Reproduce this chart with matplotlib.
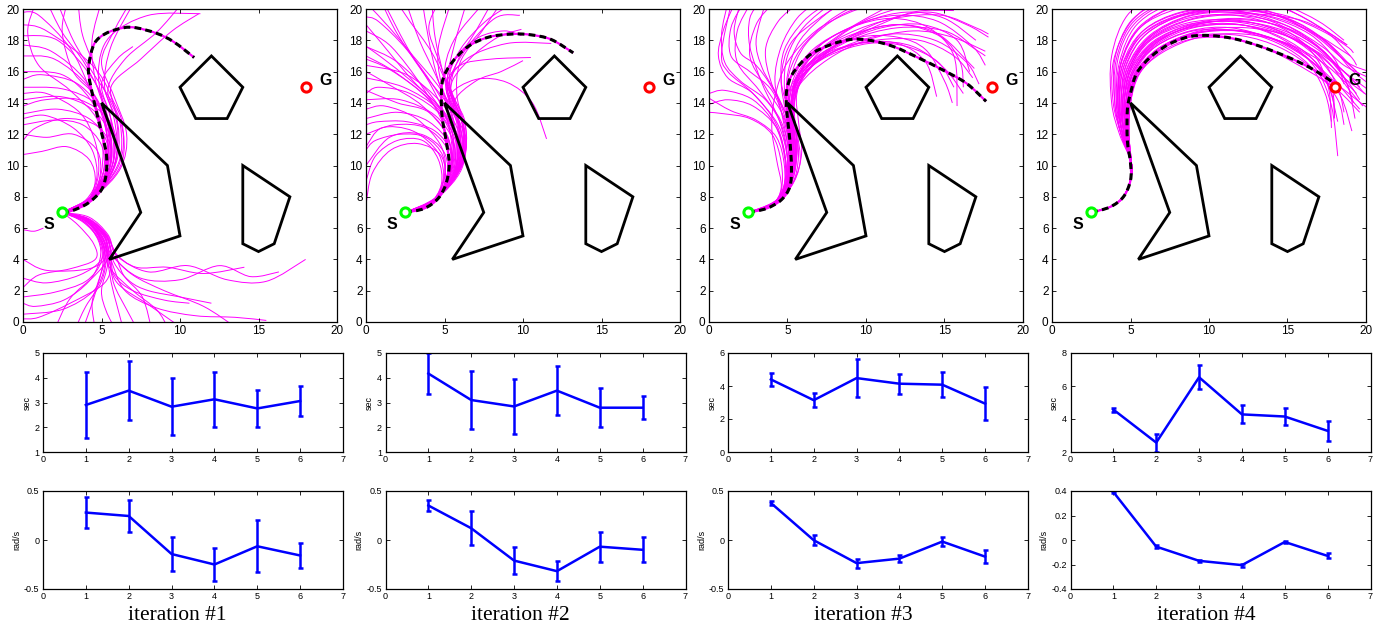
import numpy as np
import matplotlib
matplotlib.use("Agg")
import matplotlib.pyplot as plt
from matplotlib.path import Path
from matplotlib.patches import PathPatch, Polygon

# ---- scene ----
START = (2.5, 7.0)
GOAL = (18.0, 15.0)
OBSTACLES = [
    [(12, 17), (14, 15), (13, 13), (11, 13), (10, 15)],
    [(5, 14), (9.2, 10), (10, 5.5), (5.5, 4), (7.5, 7)],
    [(14, 10), (17, 8), (16, 5), (15, 4.5), (14, 5)],
]

# ---- best paths (dashed) ----
PATH1 = [(2.5, 7), (3.1, 7.1), (4.15, 7.6), (5.0, 8.45), (5.3, 9.5), (5.3, 10.8), (4.9, 12.5),
         (4.5, 14.2), (4.2, 15.7), (4.2, 16.5), (4.55, 17.8), (5.3, 18.45), (6.4, 18.8),
         (7.2, 18.8), (8.5, 18.45), (9.6, 17.9), (10.9, 16.9)]
PATH2 = [(2.5, 7), (3.7, 7.25), (4.6, 7.9), (5.1, 8.85), (5.3, 10.1), (5.1, 11.6), (4.85, 13.1),
         (4.8, 14.4), (4.9, 15.5), (5.45, 16.55), (6.5, 17.6), (7.8, 18.2), (9.3, 18.4),
         (10.5, 18.35), (11.8, 18.05), (13.2, 17.2)]
PATH3 = [(2.5, 7), (3.65, 7.25), (4.6, 7.8), (5.15, 8.65), (5.25, 9.9), (5.15, 11.6), (4.95, 13.55),
         (4.95, 14.8), (5.35, 15.9), (6.4, 17.05), (7.7, 17.7), (9.0, 18.05), (10.25, 18.0),
         (11.75, 17.6), (13.4, 16.85), (14.9, 16.1), (16.4, 15.25), (17.65, 14.1)]
PATH4 = [(2.5, 7), (3.7, 7.35), (4.55, 8.0), (5.0, 9.05), (5.0, 10.15), (4.8, 11.6), (4.8, 13.55),
         (5.0, 14.6), (5.4, 15.9), (6.3, 16.95), (7.55, 17.8), (8.85, 18.25), (10.1, 18.3),
         (11.6, 18.1), (13.3, 17.6), (15.2, 16.85), (16.7, 16.1), (18.0, 15.25)]

# ---- sampled trajectories (magenta) ----
FAN1 = [
    [(2.5, 7), (4.0, 7.6), (4.6, 9.0), (4.2, 10.4), (2.8, 11.2), (1.2, 10.9), (0, 10.7)],
    [(2.5, 7), (4.1, 7.7), (4.9, 9.3), (4.7, 11.0), (3.2, 12.0), (1.5, 11.8), (0, 12.0)],
    [(2.5, 7), (4.2, 7.8), (5.1, 9.5), (5.0, 11.3), (3.8, 12.6), (2.0, 12.9), (0, 12.6)],
    [(2.5, 7), (4.3, 7.8), (5.3, 9.6), (5.3, 11.6), (4.2, 13.0), (2.2, 13.6), (0, 13.3)],
    [(2.5, 7), (4.4, 7.9), (5.5, 9.8), (5.5, 12.0), (4.4, 13.6), (2.4, 14.4), (0, 14.2)],
    [(2.5, 7), (4.5, 8.0), (5.7, 10.0), (5.7, 12.3), (4.6, 14.0), (2.5, 14.9), (0, 15.0)],
    [(2.5, 7), (4.2, 7.9), (5.2, 9.8), (5.1, 12.0), (4.3, 14.2), (2.5, 15.8), (0, 16.0)],
    [(2.5, 7), (4.4, 8.0), (5.6, 10.2), (5.4, 12.6), (4.2, 15.0), (2.0, 16.8), (0, 17.0)],
    [(2.5, 7), (4.3, 7.9), (5.4, 10.0), (5.2, 12.6), (4.0, 15.4), (1.8, 17.3), (0, 17.7)],
    [(2.5, 7), (4.5, 8.1), (5.8, 10.4), (5.6, 13.0), (4.4, 15.6), (2.2, 18.0), (0, 18.3)],
    [(2.5, 7), (4.2, 7.8), (5.0, 9.6), (5.0, 12.4), (4.2, 15.0), (3.0, 17.5), (1.0, 19.6), (0, 19.8)],
    [(2.5, 7), (4.6, 8.1), (5.9, 10.3), (5.8, 13.0), (4.8, 15.8), (3.8, 18.3), (3.5, 20.5)],
    [(2.5, 7), (4.4, 7.9), (5.5, 9.9), (5.4, 12.8), (4.6, 15.5), (4.4, 18.0), (5.0, 20.5)],
    [(2.5, 7), (4.5, 8.0), (5.8, 10.0), (6.0, 12.6), (5.2, 15.0), (5.6, 17.6), (7.0, 20.3)],
    [(2.5, 7), (4.6, 8.1), (6.1, 10.2), (6.2, 12.6), (5.4, 14.8), (6.5, 16.8), (8.5, 18.5), (10.0, 20.2)],
    [(2.5, 7), (4.7, 8.2), (6.3, 10.2), (6.3, 12.8), (5.6, 15.0), (7.5, 16.8), (9.5, 18.6), (11.2, 19.7)],
    [(2.5, 7), (4.3, 7.9), (5.4, 10.2), (5.2, 13.2), (4.8, 16.0), (5.5, 18.2), (8.0, 19.6), (11.3, 19.7)],
    [(2.5, 7), (4.4, 8.0), (5.6, 10.3), (5.3, 13.5), (4.0, 16.4), (2.5, 18.5), (1.5, 20.5)],
    [(2.5, 7), (4.5, 8.0), (5.7, 10.1), (5.6, 12.9), (5.0, 15.2), (6.0, 16.8), (7.0, 17.6)],
    [(2.5, 7), (4.3, 7.8), (5.3, 9.7), (5.3, 12.2), (4.6, 14.4), (3.2, 16.0), (2.5, 18.5), (2.8, 20.4)],
    [(2.5, 7), (4.1, 7.7), (4.8, 9.4), (4.6, 11.5), (3.6, 13.4), (1.5, 14.6), (0, 14.6)],
    [(2.5, 7), (4.6, 8.1), (6.0, 10.4), (5.9, 13.4), (4.6, 16.2), (1.5, 18.6), (0, 19.0)],
    [(2.5, 7), (4.2, 7.9), (5.2, 10.0), (4.8, 12.8), (3.0, 14.8), (1.0, 16.4), (0.3, 18.5), (0.8, 20.4)],
    [(2.5, 7), (4.4, 8.1), (5.5, 10.4), (5.1, 13.2), (3.5, 15.2), (1.2, 15.8), (0, 15.5)],
    [(2.5, 7), (4.3, 7.8), (5.6, 9.4), (6.0, 11.2), (5.4, 13.0), (3.6, 14.2), (1.4, 14.2), (0, 13.8)],
    [(2.5, 7), (4.2, 7.8), (5.4, 9.4), (5.6, 11.2), (4.6, 12.6), (2.6, 13.0), (0.8, 12.4), (0, 11.6)],
    [(2.5, 7), (4.4, 8.0), (6.0, 9.8), (6.4, 11.8), (5.8, 13.8), (4.4, 16.0), (3.2, 18.0), (2.2, 20.4)],
    [(2.5, 7), (4.5, 8.0), (6.2, 9.8), (6.6, 12.0), (5.8, 14.4), (5.0, 16.6), (5.8, 18.6), (6.8, 20.4)],
    [(2.5, 7), (4.0, 7.8), (4.7, 9.2), (4.4, 11.0), (3.2, 12.4), (1.4, 13.2), (0, 13.0)],
    [(2.5, 7), (3.9, 6.5), (4.9, 5.4), (5.3, 4.2), (5.0, 2.6), (4.0, 1.0), (3.3, -0.5)],
    [(2.5, 7), (4.0, 6.6), (5.1, 5.4), (5.5, 4.0), (5.8, 2.4), (6.6, 0.8), (7.3, -0.5)],
    [(2.5, 7), (3.8, 6.4), (4.8, 5.3), (5.0, 3.9), (4.0, 2.6), (2.0, 1.9), (0, 1.6)],
    [(2.5, 7), (4.1, 6.6), (5.3, 5.5), (5.8, 4.2), (7.0, 3.0), (9.0, 2.0), (11.5, 1.0), (13.5, -0.3)],
    [(2.5, 7), (4.0, 6.5), (5.0, 5.2), (5.2, 3.6), (4.5, 2.0), (2.5, 0.8), (0, 0.5)],
    [(2.5, 7), (3.9, 6.5), (5.0, 5.5), (5.4, 4.2), (6.0, 2.5), (8.0, 1.1), (10.0, -0.3)],
    [(2.5, 7), (4.2, 6.7), (5.4, 5.6), (5.9, 4.4), (7.2, 3.5), (9.2, 3.5), (11.5, 3.1), (14.1, 3.5)],
    [(2.5, 7), (4.1, 6.5), (5.2, 5.4), (5.7, 4.2), (7.5, 2.8), (10.0, 2.7), (12.5, 3.6), (14.5, 2.9), (16.3, 3.2)],
    [(2.5, 7), (4.2, 6.6), (5.4, 5.5), (6.0, 4.2), (8.0, 3.2), (10.5, 3.6), (13.0, 2.7), (15.5, 2.6), (18.0, 4.0)],
    [(2.5, 7), (4.0, 6.5), (5.1, 5.3), (5.4, 3.8), (5.0, 2.0), (5.3, 0.7), (5.9, -0.5)],
    [(2.5, 7), (3.9, 6.4), (4.9, 5.2), (5.0, 4.0), (3.6, 3.0), (1.5, 2.5), (0, 2.8)],
    [(2.5, 7), (4.0, 6.6), (5.2, 5.5), (5.6, 4.0), (6.5, 2.0), (8.5, 0.9), (11.0, 0.4), (13.5, 0.3), (15.5, 0.1)],
    [(2.5, 7), (4.1, 6.5), (5.2, 5.4), (5.4, 4.1), (4.6, 3.0), (3.0, 1.5), (2.0, -0.5)],
    [(2.5, 7), (4.0, 6.5), (5.0, 5.2), (5.5, 3.5), (7.0, 2.0), (8.5, 0.8), (9.2, -0.3)],
    [(2.5, 7), (4.1, 6.5), (5.3, 5.4), (5.6, 4.0), (5.2, 2.5), (3.0, 1.2), (1.0, 0.3), (0, 0.2)],
    [(2.5, 7), (4.0, 6.5), (5.0, 5.4), (5.3, 4.2), (4.2, 3.4), (1.5, 3.3), (0, 4.0)],
    [(2.5, 7), (4.1, 6.6), (5.3, 5.5), (5.8, 3.8), (6.8, 2.6), (8.0, 2.0), (10.0, 1.6), (12.0, 1.2)],
    [(2.5, 7), (3.9, 6.5), (4.9, 5.3), (5.1, 3.8), (4.5, 1.5), (3.8, -0.5)],
    [(2.5, 7), (3.5, 6.2), (4.5, 5.0), (4.6, 4.0), (3.0, 3.4), (1.0, 3.0), (0, 2.2)],
    [(2.5, 7), (4.0, 6.5), (5.2, 5.6), (5.8, 4.6), (6.4, 3.0), (7.6, 1.6), (8.2, -0.5)],
    [(2.5, 7), (3.9, 6.4), (4.8, 5.2), (4.9, 4.0), (4.2, 2.6), (2.6, 1.4), (0.8, 1.0), (0, 1.2)],
    [(2.5, 7), (4.1, 6.6), (5.3, 5.6), (5.6, 4.4), (5.8, 3.0), (7.0, 2.0), (9.0, 1.4), (10.6, 1.2)],
    [(2.5, 7), (4.0, 6.5), (5.0, 5.3), (5.2, 4.0), (4.8, 2.6), (4.4, 1.2), (4.6, -0.5)],
    [(2.5, 7), (4.1, 6.5), (5.2, 5.4), (5.4, 4.0), (5.6, 2.6), (6.0, 1.0), (6.4, -0.5)],
    [(0, 5.9), (0.7, 5.8), (1.3, 6.0)],
]

FAN2 = [
    [(2.5, 7), (4.1, 7.5), (5.0, 8.8), (4.8, 10.6), (3.3, 11.4), (1.6, 11.0), (0.4, 9.5), (0, 7.5)],
    [(2.5, 7), (4.1, 7.5), (5.1, 8.9), (5.0, 10.8), (3.5, 12.0), (1.5, 11.8), (0, 10.0)],
    [(2.5, 7), (4.2, 7.6), (5.2, 9.0), (5.2, 11.0), (3.8, 12.4), (1.8, 12.6), (0, 12.0)],
    [(2.5, 7), (4.2, 7.6), (5.3, 9.2), (5.4, 11.2), (4.0, 12.8), (2.0, 13.4), (0, 13.0)],
    [(2.5, 7), (4.3, 7.7), (5.5, 9.3), (5.6, 11.4), (4.4, 13.2), (2.2, 14.2), (0, 14.2)],
    [(2.5, 7), (4.3, 7.7), (5.6, 9.5), (5.8, 11.6), (4.6, 13.6), (2.4, 15.0), (0, 15.6)],
    [(2.5, 7), (4.4, 7.8), (5.8, 9.6), (6.0, 11.8), (4.8, 14.0), (2.6, 15.8), (0, 16.4)],
    [(2.5, 7), (4.2, 7.6), (5.3, 9.4), (5.2, 11.8), (3.6, 13.8), (1.4, 15.2), (0, 16.0)],
    [(2.5, 7), (4.3, 7.7), (5.5, 9.6), (5.5, 12.0), (4.2, 14.4), (2.0, 16.6), (0, 17.6)],
    [(2.5, 7), (4.4, 7.8), (5.7, 9.8), (5.7, 12.2), (4.6, 14.6), (2.6, 17.4), (0.8, 19.2), (0, 19.5)],
    [(2.5, 7), (4.1, 7.5), (5.0, 9.2), (4.8, 11.2), (3.2, 13.0), (1.2, 13.8), (0, 13.6)],
    [(2.5, 7), (4.1, 7.5), (4.9, 9.0), (4.6, 10.8), (3.0, 12.2), (1.0, 12.4), (0, 11.2)],
    [(2.5, 7), (4.3, 7.7), (5.4, 9.6), (5.3, 12.4), (4.2, 15.0), (2.6, 17.6), (1.2, 20.3)],
    [(2.5, 7), (4.4, 7.8), (5.6, 9.8), (5.6, 12.6), (4.6, 15.4), (3.4, 18.0), (2.6, 20.3)],
    [(2.5, 7), (4.4, 7.8), (5.8, 10.0), (5.9, 12.8), (5.0, 15.6), (4.4, 18.2), (4.2, 20.4)],
    [(2.5, 7), (4.5, 7.9), (6.0, 10.0), (6.1, 12.8), (5.2, 15.2), (5.6, 17.6), (6.4, 20.4)],
    [(2.5, 7), (4.5, 7.9), (6.1, 10.1), (6.2, 12.6), (5.3, 15.0), (6.2, 17.2), (8.2, 19.4), (9.8, 19.6)],
    [(2.5, 7), (4.6, 8.0), (6.2, 10.2), (6.3, 12.8), (5.4, 15.0), (6.6, 16.8), (8.4, 18.2), (9.9, 18.7)],
    [(2.5, 7), (4.5, 7.9), (6.0, 10.2), (6.0, 12.6), (5.3, 14.4), (7.0, 15.5), (9.0, 15.3), (10.6, 14.0), (11.5, 11.7)],
    [(2.5, 7), (4.4, 7.8), (5.8, 10.0), (5.8, 12.6), (5.1, 15.0), (6.0, 16.4), (8.0, 16.8), (10.5, 16.9)],
    [(2.5, 7), (4.4, 7.8), (5.9, 10.0), (5.9, 12.6), (5.2, 15.0), (6.4, 16.8), (9.0, 17.8), (11.8, 17.8)],
    [(2.5, 7), (4.5, 7.9), (5.9, 10.2), (5.8, 13.0), (5.0, 15.6), (5.6, 18.0), (7.5, 20.4)],
    [(2.5, 7), (4.3, 7.7), (5.5, 9.8), (5.4, 12.8), (4.5, 15.8), (4.0, 18.0), (3.6, 20.4)],
    [(2.5, 7), (4.2, 7.6), (5.2, 9.6), (5.0, 12.4), (3.6, 15.0), (1.6, 17.6), (0, 18.6)],
    [(2.5, 7), (4.4, 7.8), (5.7, 9.9), (5.6, 12.8), (4.8, 15.2), (4.6, 17.5), (5.4, 20.4)],
    [(2.5, 7), (4.5, 7.9), (5.9, 10.1), (5.9, 12.8), (5.1, 15.0), (5.8, 17.0), (7.2, 18.2), (8.8, 18.6), (9.9, 18.3)],
    [(2.5, 7), (4.3, 7.7), (5.4, 9.6), (5.4, 12.0), (4.0, 14.2), (1.8, 16.0), (0, 17.0)],
    [(2.5, 7), (4.2, 7.7), (5.3, 9.4), (5.3, 11.6), (4.0, 13.4), (2.0, 14.0), (0, 14.8)],
    [(2.5, 7), (4.5, 7.9), (6.0, 10.0), (6.0, 12.4), (4.8, 14.8), (3.0, 17.0), (1.5, 18.8), (0.2, 20.2)],
    [(2.5, 7), (4.6, 8.0), (6.2, 10.3), (6.1, 13.0), (5.3, 15.4), (6.0, 17.4), (7.6, 19.2), (9.4, 20.4)],
    [(2.5, 7), (4.0, 7.5), (4.8, 8.8), (4.6, 10.4), (3.6, 11.6), (2.0, 11.6), (0.6, 10.6), (0, 9.0)],
    [(2.5, 7), (4.2, 7.7), (5.6, 9.2), (6.0, 11.0), (5.2, 13.0), (3.4, 14.8), (1.4, 16.2), (0, 16.8)],
    [(2.5, 7), (4.3, 7.8), (5.8, 9.4), (6.2, 11.4), (5.4, 13.6), (3.6, 16.0), (2.0, 18.4), (1.0, 20.4)],
    [(2.5, 7), (4.2, 7.7), (5.5, 9.2), (5.8, 11.2), (4.8, 13.2), (2.8, 14.6), (0.8, 15.0), (0, 14.6)],
    [(2.5, 7), (4.1, 7.6), (5.2, 9.0), (5.4, 10.8), (4.4, 12.2), (2.6, 12.8), (0.8, 12.8), (0, 12.6)],
    [(2.5, 7), (4.4, 7.8), (5.9, 9.6), (6.3, 11.8), (5.6, 14.2), (4.6, 16.8), (4.0, 18.8), (4.6, 20.4)],
    [(2.5, 7), (4.4, 7.9), (6.0, 9.8), (6.4, 12.0), (5.8, 14.4), (6.0, 16.6), (7.4, 18.6), (8.6, 20.4)],
    [(2.5, 7), (4.3, 7.8), (5.7, 9.4), (6.0, 11.4), (5.0, 13.4), (3.0, 15.4), (1.0, 17.8), (0, 19.0)],
    [(2.5, 7), (4.0, 7.5), (4.9, 8.9), (4.9, 10.6), (3.8, 11.8), (2.2, 12.0), (0.6, 11.6), (0, 11.0)],
    [(2.5, 7), (4.3, 7.8), (5.6, 9.4), (5.8, 11.6), (4.6, 13.8), (2.4, 15.8), (0.6, 17.2), (0, 17.6)],
    [(2.5, 7), (4.5, 7.9), (6.1, 9.8), (6.3, 12.2), (5.4, 14.6), (4.2, 17.2), (2.8, 19.2), (2.0, 20.4)],
    [(2.5, 7), (4.4, 7.9), (5.9, 9.8), (6.2, 12.0), (5.6, 14.0), (7.0, 15.4), (8.6, 16.0), (10.0, 16.7)],
    [(2.5, 7), (4.5, 8.0), (6.1, 10.0), (6.2, 12.4), (5.4, 14.6), (5.8, 16.6), (7.0, 18.6), (8.0, 20.4)],
]

FAN3 = [
    [(2.5, 7), (3.9, 7.4), (4.7, 8.3), (4.8, 10.0), (4.3, 11.8), (3.0, 12.9), (1.4, 13.5), (0, 14.3)],
    [(2.5, 7), (3.9, 7.4), (4.6, 8.4), (4.6, 10.2), (4.0, 12.0), (2.6, 13.0), (1.0, 13.3), (0, 13.4)],
    [(2.5, 7), (4.0, 7.4), (4.8, 8.4), (4.9, 10.2), (4.3, 12.4), (2.8, 13.8), (1.2, 14.2), (0, 13.9)],
    [(2.5, 7), (4.0, 7.5), (4.9, 8.6), (5.0, 10.4), (4.4, 12.6), (2.8, 14.6), (1.2, 16.0), (0.8, 17.2), (1.4, 20.3)],
    [(2.5, 7), (4.0, 7.5), (4.9, 8.6), (5.1, 10.5), (4.6, 12.8), (3.2, 14.8), (1.8, 16.6), (1.8, 18.6), (2.6, 20.3)],
    [(2.5, 7), (4.1, 7.5), (5.0, 8.7), (5.2, 10.6), (4.8, 13.0), (3.6, 15.0), (2.6, 17.0), (3.0, 19.0), (4.0, 20.3)],
    [(2.5, 7), (4.1, 7.5), (5.0, 8.8), (5.3, 10.8), (5.0, 13.0), (4.0, 15.2), (3.6, 17.4), (4.4, 19.2), (5.6, 20.3)],
    [(2.5, 7), (4.1, 7.6), (5.1, 8.8), (5.4, 10.8), (5.1, 13.2), (4.6, 15.4), (4.8, 17.4), (6.0, 19.2), (7.4, 20.3)],
    [(2.5, 7), (4.2, 7.6), (5.2, 9.0), (5.5, 11.0), (5.2, 13.4), (5.0, 15.4), (5.8, 17.4), (7.6, 19.2), (9.4, 20.3)],
    [(2.5, 7), (4.2, 7.6), (5.2, 9.0), (5.6, 11.0), (5.4, 13.4), (5.4, 15.2), (6.6, 17.0), (9.0, 18.8), (11.5, 20.2)],
    [(2.5, 7), (4.2, 7.6), (5.3, 9.0), (5.6, 11.2), (5.4, 13.6), (5.8, 15.4), (7.4, 17.2), (10.0, 18.6), (13.0, 19.8), (15.6, 19.9)],
    [(2.5, 7), (4.2, 7.6), (5.2, 9.0), (5.5, 11.2), (5.3, 13.6), (5.8, 15.2), (7.6, 16.8), (10.0, 18.0), (13.0, 18.6), (15.5, 18.2), (17.6, 17.3)],
    [(2.5, 7), (4.1, 7.6), (5.1, 8.9), (5.4, 11.0), (5.2, 13.6), (5.6, 15.4), (7.0, 17.0), (9.4, 18.4), (12.0, 19.0), (14.6, 18.4), (16.9, 16.2)],
    [(2.5, 7), (4.1, 7.6), (5.1, 8.9), (5.3, 11.0), (5.1, 13.8), (5.6, 15.6), (7.2, 17.2), (9.6, 18.2), (12.0, 18.2), (13.8, 17.4), (15.0, 15.4), (15.5, 14.0)],
    [(2.5, 7), (4.1, 7.5), (5.0, 8.8), (5.3, 11.0), (5.1, 13.6), (5.4, 15.6), (6.6, 17.4), (9.0, 18.8), (11.6, 19.4), (14.0, 18.8), (15.6, 17.0), (15.8, 13.8)],
    [(2.5, 7), (4.1, 7.5), (5.0, 8.8), (5.2, 11.0), (5.0, 13.8), (5.4, 15.4), (7.0, 16.8), (9.4, 17.8), (12.0, 17.8), (13.8, 16.6), (14.5, 14.4)],
    [(2.5, 7), (4.2, 7.6), (5.2, 9.0), (5.5, 11.2), (5.2, 13.6), (5.6, 15.6), (7.0, 17.6), (9.4, 19.0), (12.0, 19.6), (14.6, 19.2), (16.8, 17.6), (17.6, 16.4)],
    [(2.5, 7), (4.1, 7.6), (5.1, 8.9), (5.4, 11.0), (5.1, 13.4), (5.2, 15.6), (6.2, 17.8), (8.4, 19.6), (10.6, 20.4)],
    [(2.5, 7), (4.0, 7.5), (4.9, 8.7), (5.1, 10.6), (4.7, 13.0), (4.2, 15.4), (4.6, 17.6), (5.6, 19.4), (6.8, 20.4)],
    [(2.5, 7), (4.0, 7.5), (4.8, 8.6), (5.0, 10.4), (4.5, 12.8), (3.4, 15.2), (2.6, 17.6), (2.6, 19.4), (3.2, 20.4)],
    [(2.5, 7), (3.9, 7.4), (4.7, 8.5), (4.9, 10.2), (4.3, 12.6), (2.8, 14.6), (1.2, 15.6), (0.6, 17.0), (0.9, 18.6), (1.6, 20.3)],
    [(2.5, 7), (4.1, 7.5), (5.0, 8.8), (5.2, 10.8), (4.9, 13.2), (4.6, 15.6), (5.2, 17.8), (7.0, 19.4), (8.6, 20.4)],
    [(2.5, 7), (4.2, 7.6), (5.2, 9.0), (5.5, 11.2), (5.3, 13.8), (5.6, 15.8), (7.2, 17.8), (10.0, 19.2), (12.6, 19.8), (15.0, 19.4), (17.0, 18.0)],
    [(2.5, 7), (4.2, 7.6), (5.2, 9.0), (5.4, 11.2), (5.2, 13.8), (5.8, 15.6), (7.8, 17.2), (10.6, 18.0), (13.4, 18.0), (15.6, 17.0), (16.8, 15.6)],
    [(2.5, 7), (4.1, 7.6), (5.1, 8.9), (5.4, 11.0), (5.2, 13.8), (5.8, 15.6), (7.6, 17.0), (10.2, 17.8), (12.6, 17.6), (14.6, 16.6), (15.6, 15.0)],
    [(2.5, 7), (4.0, 7.5), (4.9, 8.7), (5.1, 10.8), (4.8, 13.2), (4.0, 15.0), (3.0, 16.4), (2.0, 17.2), (1.6, 18.6), (2.0, 20.4)],
    [(2.5, 7), (4.2, 7.6), (5.2, 9.0), (5.6, 11.2), (5.4, 13.6), (6.0, 15.6), (8.0, 17.6), (11.0, 19.2), (14.0, 19.8), (16.4, 19.0), (17.8, 18.2)],
    [(2.5, 7), (4.1, 7.6), (5.1, 8.9), (5.3, 11.0), (5.0, 13.6), (5.0, 15.8), (5.8, 18.0), (7.6, 19.8), (9.0, 20.6)],
    [(2.5, 7), (4.0, 7.6), (5.2, 8.6), (5.8, 10.2), (5.6, 12.2), (5.3, 14.0), (6.2, 16.0), (8.6, 17.6), (11.6, 18.4), (14.4, 18.0), (16.4, 16.6), (17.2, 15.2)],
    [(2.5, 7), (4.0, 7.5), (4.6, 8.6), (4.3, 10.4), (4.0, 12.4), (4.2, 14.4), (5.0, 16.6), (6.8, 18.6), (9.0, 19.8), (11.0, 20.4)],
    [(2.5, 7), (4.1, 7.6), (5.3, 8.8), (5.7, 10.6), (5.5, 12.6), (5.3, 14.4), (6.0, 16.2), (8.0, 17.4), (10.6, 17.9), (13.0, 17.6), (15.0, 16.2), (16.2, 14.6)],
    [(2.5, 7), (4.0, 7.5), (5.0, 8.6), (5.4, 10.4), (5.2, 12.4), (4.4, 14.4), (3.4, 16.2), (3.0, 18.0), (3.6, 20.4)],
    [(2.5, 7), (4.0, 7.5), (4.9, 8.7), (5.0, 10.6), (4.6, 12.6), (3.6, 14.2), (2.0, 15.4), (1.0, 16.6), (0.8, 18.4), (1.2, 20.4)],
    [(2.5, 7), (4.1, 7.6), (5.1, 8.9), (5.5, 10.8), (5.4, 12.8), (5.6, 14.8), (6.8, 16.6), (9.0, 18.0), (12.0, 18.8), (15.0, 18.6), (17.0, 17.4), (17.6, 17.0)],
    [(2.5, 7), (4.1, 7.5), (5.0, 8.8), (5.3, 10.8), (5.1, 12.8), (4.8, 15.0), (5.0, 17.0), (6.0, 18.8), (7.8, 20.4)],
    [(2.5, 7), (4.2, 7.7), (5.4, 9.0), (5.9, 10.8), (5.7, 12.8), (5.6, 14.6), (6.4, 16.4), (8.4, 17.8), (11.0, 18.8), (13.6, 19.0), (15.8, 18.0), (16.6, 16.0)],
    [(2.5, 7), (4.1, 7.6), (5.1, 8.9), (5.4, 10.8), (5.2, 13.0), (5.6, 15.2), (7.0, 17.2), (9.8, 19.2), (12.8, 20.2), (15.6, 20.4)],
    [(2.5, 7), (4.0, 7.5), (4.8, 8.7), (4.8, 10.6), (4.2, 12.6), (2.8, 14.2), (1.0, 14.8), (0, 14.6)],
    [(2.5, 7), (4.0, 7.5), (4.9, 8.8), (5.1, 10.8), (4.8, 12.8), (4.0, 14.8), (2.6, 16.0), (1.4, 17.0), (1.4, 18.8), (2.2, 20.4)],
    [(2.5, 7), (4.1, 7.6), (5.2, 8.8), (5.6, 10.6), (5.5, 12.6), (5.4, 14.6), (6.4, 16.8), (8.8, 18.4), (11.8, 19.4), (14.8, 19.6), (17.0, 18.8), (17.8, 18.4)],
    [(2.5, 7), (4.1, 7.6), (5.1, 8.8), (5.5, 10.6), (5.3, 12.8), (5.4, 15.0), (6.6, 17.0), (9.2, 18.4), (12.2, 19.0), (14.8, 18.2), (16.0, 16.6), (16.2, 15.0)],
]

TRUNK4 = [(2.5, 7), (3.7, 7.35), (4.55, 8.0), (5.0, 9.1), (5.05, 10.2)]
FAN4_TAILS = [
    [(4.9, 12), (5.0, 14), (5.6, 15.9), (7.0, 17.3), (9.0, 18.1), (11.5, 18.1), (14.0, 17.3), (16.4, 16.0), (18.2, 14.8), (19.6, 13.4)],
    [(4.8, 12), (4.8, 14), (5.3, 16.0), (6.6, 17.6), (8.8, 18.6), (11.4, 18.8), (14.2, 18.0), (16.6, 16.6), (18.4, 15.0), (20.2, 13.6)],
    [(4.7, 12), (4.6, 14), (5.0, 16.2), (6.3, 18.0), (8.6, 19.0), (11.4, 19.2), (14.2, 18.6), (16.8, 17.2), (18.6, 15.6), (20.2, 14.4)],
    [(4.6, 12), (4.4, 14), (4.7, 16.4), (6.0, 18.4), (8.4, 19.6), (11.2, 19.8), (14.0, 19.2), (16.6, 17.8), (18.4, 16.2), (19.6, 15.0)],
    [(4.5, 12), (4.2, 14), (4.4, 16.6), (5.6, 18.8), (8.0, 20.0), (11.0, 20.3), (14.0, 19.8), (16.6, 18.4), (18.3, 17.0), (19.4, 16.0)],
    [(4.4, 12), (4.0, 14), (4.1, 16.8), (5.2, 19.2), (7.6, 20.5), (11.0, 20.8), (14.0, 20.4), (16.8, 19.0), (18.8, 17.7)],
    [(4.3, 12), (3.8, 14), (3.8, 17.0), (4.8, 19.6), (6.8, 21.0)],
    [(4.4, 12), (3.9, 14), (3.9, 16.6), (4.9, 19.0), (6.6, 20.6)],
    [(4.6, 12), (4.5, 14), (4.8, 16.2), (6.2, 18.2), (8.6, 19.4), (11.6, 19.6), (14.6, 18.8), (16.6, 17.2), (17.6, 15.2), (18.2, 12.8)],
    [(4.7, 12), (4.7, 14), (5.1, 16.0), (6.5, 17.8), (9.0, 18.9), (12.0, 19.0), (14.8, 18.0), (16.8, 16.2), (17.8, 13.8), (18.2, 10.6)],
    [(4.8, 12), (4.9, 14), (5.4, 15.9), (6.8, 17.5), (9.2, 18.5), (12.0, 18.6), (14.8, 17.8), (17.0, 16.2), (18.4, 14.4), (19.1, 12.2)],
    [(4.6, 12), (4.5, 14), (4.9, 16.2), (6.2, 18.0), (8.6, 19.1), (11.6, 19.3), (14.4, 18.6), (16.8, 17.0), (18.4, 15.0), (19.6, 13.6)],
    [(4.7, 12), (4.6, 14), (5.0, 16.0), (6.4, 17.8), (8.8, 18.8), (11.8, 19.0), (14.6, 18.4), (17.0, 17.2), (18.8, 15.8), (19.9, 14.6)],
    [(4.5, 12), (4.3, 14), (4.6, 16.4), (5.8, 18.6), (8.2, 19.8), (11.2, 20.1), (14.2, 19.6), (16.8, 18.4), (18.4, 17.4), (19.0, 17.0)],
    [(4.5, 12), (4.2, 14), (4.5, 16.5), (5.8, 18.6), (8.4, 19.8), (11.6, 19.9), (14.8, 19.0), (17.2, 17.4), (18.6, 15.6), (19.2, 14.0)],
    [(4.8, 12), (4.8, 14), (5.2, 16.0), (6.6, 17.6), (9.0, 18.6), (11.8, 18.6), (14.4, 17.8), (16.4, 16.4), (17.4, 14.6), (17.8, 12.8)],
    [(4.9, 12), (5.0, 14), (5.5, 15.8), (6.9, 17.4), (9.2, 18.3), (12.0, 18.3), (14.6, 17.5), (16.8, 16.0), (18.2, 14.2), (18.6, 12.6)],
    [(4.6, 12), (4.4, 14), (4.8, 16.3), (6.2, 18.3), (8.8, 19.6), (12.0, 19.9), (15.0, 19.4), (17.4, 18.0), (19.0, 16.2), (20.2, 15.2)],
    [(4.4, 12), (4.1, 14), (4.3, 16.6), (5.4, 19.0), (7.8, 20.4), (11.0, 20.9)],
    [(4.7, 12), (4.6, 14), (5.0, 16.1), (6.4, 17.9), (8.8, 19.0), (11.6, 19.4), (14.2, 19.0), (16.6, 17.8), (18.6, 16.0), (20.2, 14.8)],
    [(4.8, 12), (4.8, 14), (5.3, 15.9), (6.8, 17.5), (9.4, 18.6), (12.4, 18.8), (15.2, 18.2), (17.4, 16.8), (18.8, 15.0), (19.8, 13.8)],
    [(4.6, 12), (4.5, 14), (4.9, 16.2), (6.3, 18.2), (9.0, 19.4), (12.2, 19.7), (15.4, 19.4), (17.4, 18.6), (18.8, 17.7)],
    [(4.5, 12), (4.3, 14), (4.6, 16.4), (6.0, 18.6), (8.8, 19.8), (12.2, 20.0), (15.4, 19.2), (17.6, 17.8), (19.0, 16.4), (19.6, 15.8)],
    [(4.7, 12), (4.7, 14), (5.2, 16.0), (6.6, 17.8), (9.2, 19.0), (12.2, 19.2), (15.0, 18.4), (17.0, 17.0), (18.2, 15.0), (18.6, 13.4)],
    [(4.9, 12), (4.9, 14), (5.4, 15.9), (6.8, 17.4), (9.0, 18.4), (11.8, 18.6), (14.4, 18.0), (16.6, 16.8), (17.8, 15.0), (18.0, 13.0)],
    [(4.5, 12), (4.2, 14), (4.4, 16.5), (5.6, 18.8), (8.0, 20.2), (11.4, 20.6), (14.8, 20.0), (17.4, 18.6), (19.0, 17.0), (19.4, 16.4)],
    [(4.6, 12), (4.3, 14), (4.5, 16.4), (5.8, 18.4), (8.2, 19.6), (11.0, 19.9), (13.8, 19.5), (16.4, 18.4), (18.0, 16.8), (18.6, 15.2)],
    [(4.7, 12), (4.6, 14), (5.1, 16.0), (6.5, 17.9), (9.0, 19.0), (12.0, 19.2), (14.8, 18.6), (17.2, 17.2), (18.8, 15.4), (19.6, 14.2)],
    [(4.5, 12), (4.1, 14), (4.2, 16.8), (5.2, 19.0), (7.2, 20.3), (10.2, 20.8)],
    [(4.8, 12), (4.8, 14), (5.4, 15.8), (6.9, 17.4), (9.4, 18.5), (12.2, 18.6), (14.8, 17.8), (16.8, 16.4), (17.8, 14.6), (18.0, 13.2)],
    [(4.6, 12), (4.4, 14), (4.7, 16.3), (6.0, 18.4), (8.6, 19.7), (11.8, 20.0), (14.8, 19.6), (17.2, 18.6), (18.8, 17.6), (19.2, 17.2)],
    [(4.7, 12), (4.6, 14), (5.0, 16.2), (6.3, 18.1), (8.8, 19.3), (11.8, 19.6), (14.8, 19.0), (17.2, 17.6), (18.6, 16.4), (20.2, 15.6)],
    [(4.8, 12), (4.7, 14), (5.2, 16.0), (6.6, 17.7), (9.0, 18.8), (12.0, 19.0), (14.6, 18.2), (16.6, 16.8), (17.6, 15.0), (17.8, 12.4)],
    [(4.4, 12), (4.0, 14), (4.0, 16.8), (5.0, 19.2), (7.0, 20.6)],
    [(4.6, 12), (4.5, 14), (4.9, 16.2), (6.2, 18.2), (8.6, 19.5), (11.4, 19.8), (14.4, 19.4), (17.0, 18.2), (18.8, 16.6), (20.2, 16.0)],
    [(4.7, 12), (4.7, 14), (5.2, 16.0), (6.6, 17.8), (9.2, 19.0), (12.4, 19.3), (15.4, 18.6), (17.6, 17.0), (18.8, 15.2), (19.3, 13.0)],
    [(4.9, 12), (5.0, 14), (5.5, 15.8), (7.0, 17.2), (9.4, 18.2), (12.2, 18.4), (15.0, 17.8), (17.2, 16.6), (18.6, 15.4), (19.4, 14.6)],
    [(4.5, 12), (4.2, 14), (4.4, 16.6), (5.6, 18.9), (8.2, 20.3), (11.6, 20.7), (14.8, 20.2), (17.0, 19.2), (18.6, 18.0)],
]
FAN4 = [TRUNK4 + tail for tail in FAN4_TAILS]

FANS = [FAN1, FAN2, FAN3, FAN4]
PATHS = [PATH1, PATH2, PATH3, PATH4]

# ---- per-iteration statistics ----
ITER = [1, 2, 3, 4, 5, 6]
SEC_MEAN = [[2.90, 3.48, 2.83, 3.13, 2.76, 3.06],
            [4.17, 3.10, 2.84, 3.48, 2.79, 2.79],
            [4.40, 3.14, 4.48, 4.14, 4.08, 2.93],
            [4.57, 2.57, 6.53, 4.28, 4.15, 3.28]]
SEC_ERR = [[1.32, 1.20, 1.16, 1.12, 0.75, 0.60],
           [0.82, 1.18, 1.10, 0.99, 0.80, 0.47],
           [0.41, 0.43, 1.16, 0.61, 0.75, 1.02],
           [0.12, 0.55, 0.72, 0.55, 0.50, 0.60]]
SEC_YLIM = [(1, 5), (1, 5), (0, 6), (2, 8)]
SEC_TICKS = [[1, 2, 3, 4, 5], [1, 2, 3, 4, 5], [0, 2, 4, 6], [2, 4, 6, 8]]

RAD_MEAN = [[0.280, 0.245, -0.143, -0.250, -0.064, -0.158],
            [0.352, 0.120, -0.210, -0.318, -0.068, -0.100],
            [0.378, -0.002, -0.236, -0.190, -0.016, -0.170],
            [0.392, -0.054, -0.170, -0.205, -0.016, -0.130]]
RAD_ERR = [[0.160, 0.160, 0.170, 0.172, 0.265, 0.130],
           [0.060, 0.174, 0.134, 0.100, 0.154, 0.128],
           [0.025, 0.054, 0.045, 0.033, 0.050, 0.064],
           [0.010, 0.012, 0.010, 0.012, 0.010, 0.020]]
RAD_YLIM = [(-0.5, 0.5), (-0.5, 0.5), (-0.5, 0.5), (-0.4, 0.4)]
RAD_TICKS = [[-0.5, 0, 0.5], [-0.5, 0, 0.5], [-0.5, 0, 0.5], [-0.4, -0.2, 0, 0.2, 0.4]]

TITLES = ["iteration #1", "iteration #2", "iteration #3", "iteration #4"]

plt.rcParams["font.family"] = ["Liberation Sans", "DejaVu Sans"]
plt.rcParams["axes.unicode_minus"] = False

MAGENTA = (1.0, 0.0, 1.0)
BLUE = (0.0, 0.0, 1.0)


def smooth_path(pts):
    # Catmull-Rom through the waypoints, handed to matplotlib as cubic Bezier segments
    p = np.asarray(pts, float)
    ext = np.vstack([p[0], p, p[-1]])
    verts = [p[0]]
    codes = [Path.MOVETO]
    for i in range(len(p) - 1):
        p0, p1, p2, p3 = ext[i], ext[i + 1], ext[i + 2], ext[i + 3]
        verts += [p1 + (p2 - p0) / 6, p2 - (p3 - p1) / 6, p2]
        codes += [Path.CURVE4] * 3
    return Path(verts, codes)


def style_box(ax, size):
    ax.tick_params(direction="in", top=True, right=True, labelsize=size,
                   length=3, width=0.6, pad=2.5)
    for s in ax.spines.values():
        s.set_linewidth(0.9)


W, H = 1391, 630
fig = plt.figure(figsize=(W / 100, H / 100), dpi=100)


def px_axes(left, top, width, height):
    return fig.add_axes([left / W, 1 - (top + height) / H, width / W, height / H])


for k in range(4):
    # trajectory plot
    ax = px_axes(23 + 343 * k, 9, 314, 313)
    for traj in FANS[k]:
        ax.add_patch(PathPatch(smooth_path(traj), fill=False, ec=MAGENTA, lw=0.7))
    ax.add_patch(PathPatch(smooth_path(PATHS[k]), fill=False, ec=MAGENTA, lw=1.6))
    ax.add_patch(PathPatch(smooth_path(PATHS[k]), fill=False, ec="black", lw=2.2,
                           ls=(0, (2.2, 1.4))))
    for obs in OBSTACLES:
        ax.add_patch(Polygon(obs, closed=True, fill=False, ec="black", lw=2.0, joinstyle="miter"))
    ax.plot(*START, "o", ms=6.6, mfc="white", mec=(0, 1, 0), mew=2.2)
    ax.plot(*GOAL, "o", ms=6.6, mfc="white", mec=(1, 0, 0), mew=2.2)
    ax.text(1.65, 6.2, "S", fontsize=11.5, fontweight="bold", ha="center", va="center")
    ax.text(19.3, 15.4, "G", fontsize=11.5, fontweight="bold", ha="center", va="center")
    ax.set_xlim(0, 20)
    ax.set_ylim(0, 20)
    ax.set_xticks([0, 5, 10, 15, 20])
    ax.set_yticks(range(0, 21, 2))
    style_box(ax, 8.5)

    # execution time
    ax = px_axes(43 + 342.5 * k, 353, 300, 99)
    ax.errorbar(ITER, SEC_MEAN[k], yerr=SEC_ERR[k], color=BLUE, lw=1.8,
                elinewidth=1.8, capsize=1.8, capthick=1.8)
    ax.set_xlim(0, 7)
    ax.set_ylim(*SEC_YLIM[k])
    ax.set_xticks(range(8))
    ax.set_yticks(SEC_TICKS[k])
    ax.set_ylabel("sec", fontsize=6.5, labelpad=2)
    style_box(ax, 6.5)

    # angular velocity
    ax = px_axes(43 + 342.5 * k, 491, 300, 98)
    ax.errorbar(ITER, RAD_MEAN[k], yerr=RAD_ERR[k], color=BLUE, lw=1.8,
                elinewidth=1.8, capsize=1.8, capthick=1.8)
    ax.set_xlim(0, 7)
    ax.set_ylim(*RAD_YLIM[k])
    ax.set_xticks(range(8))
    ax.set_yticks(RAD_TICKS[k])
    ax.yaxis.set_major_formatter(matplotlib.ticker.FormatStrFormatter("%g"))
    ax.set_ylabel("rad/s", fontsize=6.5, labelpad=2)
    style_box(ax, 6.5)

    fig.text((177 + 343 * k) / W, 1 - 615 / H, TITLES[k], ha="center", va="center",
             fontsize=15.5, family=["Liberation Serif", "DejaVu Serif"])

fig.savefig("out.png", dpi=100)
